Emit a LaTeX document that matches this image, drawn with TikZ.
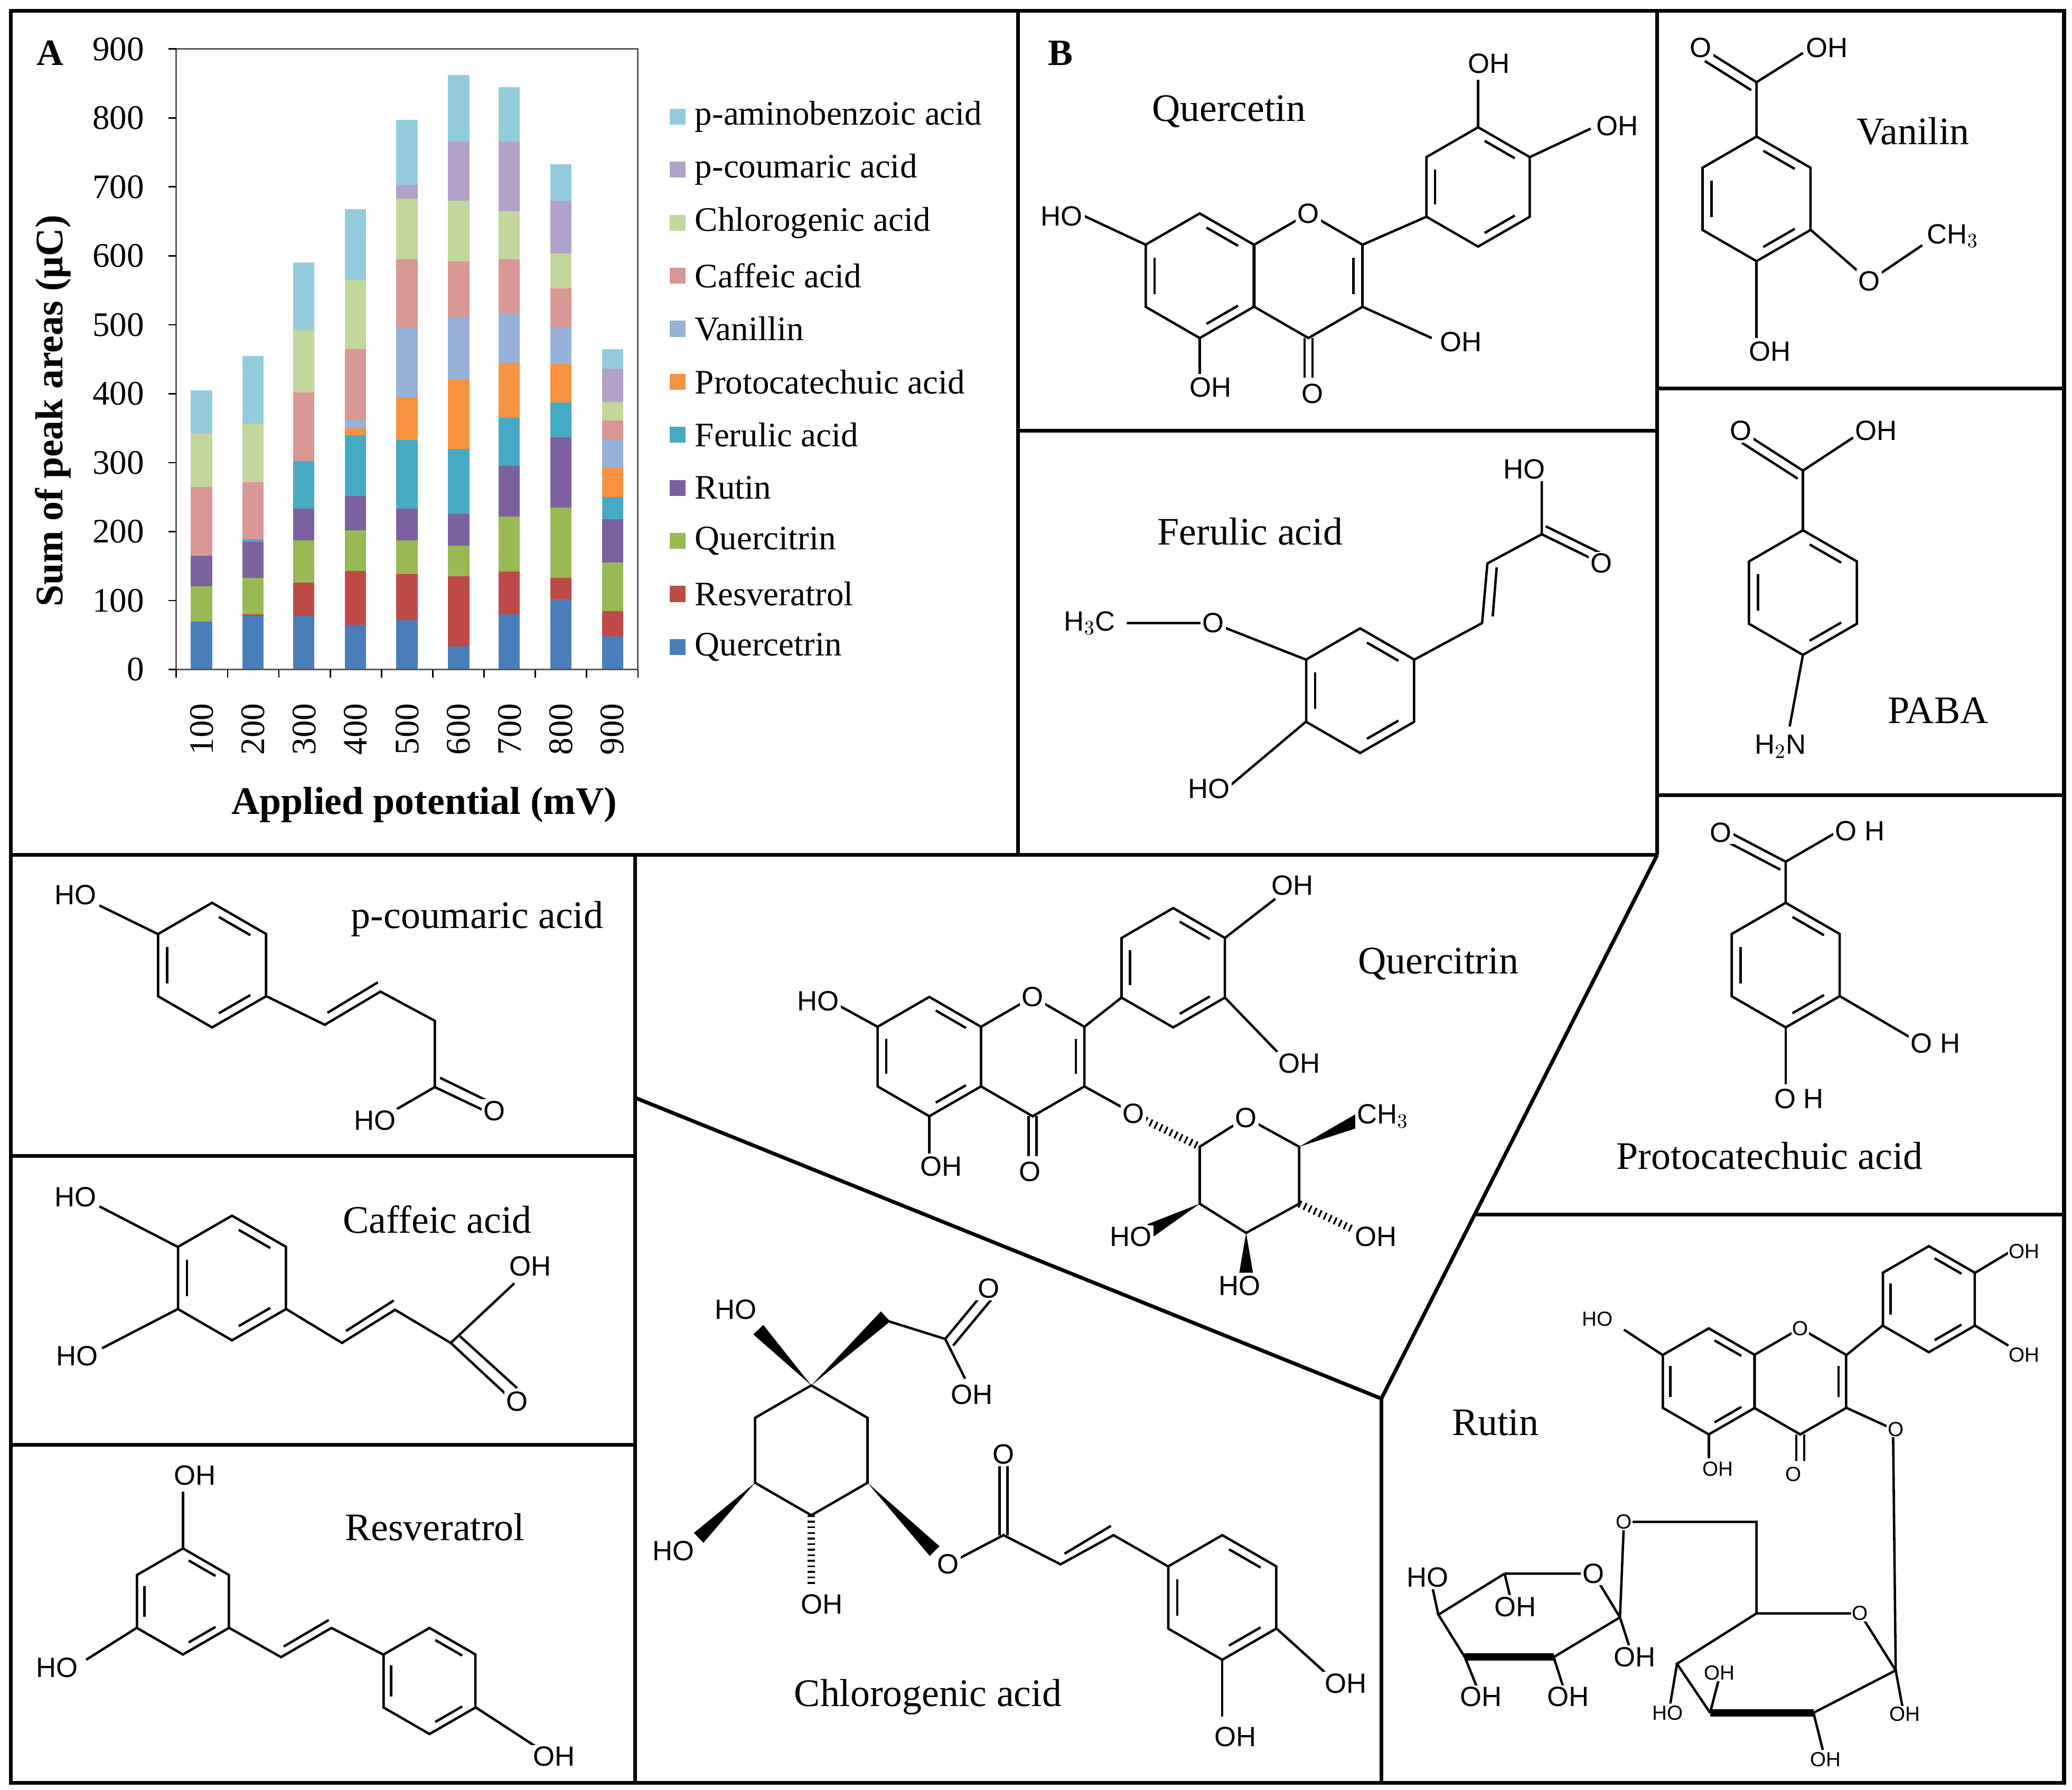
\documentclass[tikz,border=0pt]{standalone}
\usepackage{fontspec}
\setmainfont{Liberation Serif}
\newfontfamily\chemfont{Liberation Sans}
\usetikzlibrary{calc}
\definecolor{c1}{HTML}{4A7EBB}\definecolor{c2}{HTML}{BE4B48}\definecolor{c3}{HTML}{98B954}
\definecolor{c4}{HTML}{7D60A0}\definecolor{c5}{HTML}{46AAC5}\definecolor{c6}{HTML}{F69240}
\definecolor{c7}{HTML}{97B1D8}\definecolor{c8}{HTML}{D99795}\definecolor{c9}{HTML}{C3D69B}
\definecolor{c10}{HTML}{B3A2C7}\definecolor{c11}{HTML}{93CDDD}
\newcommand\hexr[4]{\draw[bond] (#1,#2) +(90:#3) -- +(150:#3) -- +(210:#3) -- +(270:#3) -- +(330:#3) -- +(30:#3) -- cycle;
 \foreach \k in {#4}{\draw[bond] ($(#1,#2)+({98+60*\k}:0.78*#3)$) -- ($(#1,#2)+({142+60*\k}:0.78*#3)$);}}
\newcommand\wdg[4]{\fill (#1,#2) -- ($(#3,#4)!0.13cm!90:(#1,#2)$) -- ($(#3,#4)!0.13cm!-90:(#1,#2)$) -- cycle;}
\begin{document}
\begin{tikzpicture}[x=0.0251cm,y=-0.0251cm,
 bond/.style={line width=1.3pt},
 frame/.style={line width=2pt},
 ttl/.style={font=\fontsize{21}{24}\selectfont,inner sep=0},
 ax/.style={font=\fontsize{18.5}{21}\selectfont,inner sep=0},
 ch/.style={font=\chemfont\fontsize{15}{17}\selectfont,inner sep=1pt,fill=white},
 cs/.style={font=\chemfont\fontsize{11}{13}\selectfont,inner sep=0.5pt,fill=white},
 hash/.style={line width=4pt,dash pattern=on 1pt off 2pt}]
\useasboundingbox (0,0) rectangle (1563,1350);
\fill[white] (0,0) rectangle (1563,1350);
% ---------- frames
\draw[frame] (8,8) rectangle (1557,1345);
\draw[frame] (768,8) -- (768,645);
\draw[frame] (8,645) -- (1250,645);
\draw[frame] (1250,8) -- (1250,645);
\draw[frame] (768,325) -- (1250,325);
\draw[frame] (1250,293) -- (1557,293);
\draw[frame] (1250,600) -- (1557,600);
\draw[frame] (1113,916) -- (1557,916);
\draw[frame] (479,645) -- (479,1345);
\draw[frame] (8,872) -- (479,872);
\draw[frame] (8,1090) -- (479,1090);
\draw[frame] (1250,645) -- (1042,1055) -- (479,828);
\draw[frame] (1042,1055) -- (1042,1345);
% ---------- chart
\node[font=\bfseries\fontsize{20}{22}\selectfont] (lA) at (38,40) {A};
\node[font=\bfseries\fontsize{20}{22}\selectfont] (lB) at (800,40) {B};
\foreach \x/\vals in {152/{69,69,121,165,165,165,165,265,342,342,405},
 191/{78,80,133,185,189,189,189,272,357,357,455},
 229/{78,126,187,233,302,302,302,402,492,492,590},
 268/{65,143,202,252,340,350,362,465,565,565,668},
 307/{72,138,187,233,333,395,495,595,683,703,797},
 346/{33,135,180,226,320,420,510,592,680,766,862},
 384/{80,142,222,295,365,445,517,595,665,766,845},
 423/{102,133,235,337,387,443,497,553,603,680,733},
 462/{48,85,155,218,250,293,333,361,388,436,465}}{
 \foreach \t [count=\i, remember=\t as \p (initially 0)] in \vals {
  \fill[c\i] (\x-8,{505-0.52*\p}) rectangle (\x+8,{505-0.52*\t});}}
\draw[line width=0.8pt,gray!70!black] (133,37) rectangle (481,505);
\foreach \v in {0,100,...,900}{\draw[line width=0.8pt] (127,{505-0.52*\v}) -- (133,{505-0.52*\v});
 \node[ax,anchor=east] at (109,{505-0.52*\v}) {\v};}
\foreach \k in {0,...,9}{\draw[line width=0.8pt] ({133+38.7*\k},505) -- ({133+38.7*\k},511);}
\foreach \v [count=\i] in {100,200,...,900}{\node[ax,rotate=90] at ({113.6+38.7*\i},550) {\v};}
\node[font=\bfseries\fontsize{21}{23}\selectfont,rotate=90] (yl) at (40,310) {Sum of peak areas (μC)};
\node[font=\bfseries\fontsize{21}{23}\selectfont] (xl) at (320,607) {Applied potential (mV)};
\foreach \n [count=\i] in {Quercetrin,Resveratrol,Quercitrin,Rutin,Ferulic acid,Protocatechuic acid,Vanillin,Caffeic acid,Chlorogenic acid,p-coumaric acid,p-aminobenzoic acid}{
 \fill[c\i] (505,{488-40*(\i-1)-6}) rectangle (517,{488-40*(\i-1)+6});
 \node[ax,anchor=west] at (524,{488-40*(\i-1)}) {\n};}
% ---------- Quercetin
\node[ttl] (tq) at (927,84) {Quercetin};
\hexr{905}{208}{47}{1,3,5}
\hexr{987}{208}{47}{4}
\hexr{1115}{141}{45}{1,3,5}
\draw[bond] (1028,184.5) -- (1076,163.5);
\draw[bond] (1115,96) -- (1115,60); \draw[bond] (1154,118.5) -- (1200,97);
\draw[bond] (864,184.5) -- (818,163); \draw[bond] (905,255) -- (905,282);
\draw[bond] (984,255) -- (984,285); \draw[bond] (990,255) -- (990,285);
\draw[bond] (1028,231.5) -- (1080,255);
\node[ch] (q1) at (987,161) {O}; \node[ch] (q2) at (1123,48) {OH}; \node[ch] (q3) at (1220,95) {OH};
\node[ch] (q4) at (801,163) {HO}; \node[ch] (q5) at (913,292) {OH}; \node[ch] (q6) at (990,297) {O};
\node[ch] (q7) at (1102,258) {OH};
% ---------- Vanilin
\node[ttl] (tv) at (1443,99) {Vanilin};
\hexr{1325}{150}{47}{1,3,5}
\draw[bond] (1325,103) -- (1325,62) -- (1360,40);
\draw[bond] (1325,62) -- (1290,40); \draw[bond] (1321,68) -- (1286,46);
\draw[bond] (1366,173.5) -- (1410,212) -- (1450,185);
\draw[bond] (1325,197) -- (1325,255);
\node[ch] (v1) at (1283,36) {O}; \node[ch] (v2) at (1378,36) {OH}; \node[ch] (v3) at (1410,212) {O};
\node[ch] (v4) at (1473,178) {CH$_3$}; \node[ch] (v5) at (1335,265) {OH};
% ---------- PABA
\node[ttl] (tp) at (1462,536) {PABA};
\hexr{1360}{447}{47}{1,3,5}
\draw[bond] (1360,400) -- (1360,355) -- (1398,330);
\draw[bond] (1360,355) -- (1318,328); \draw[bond] (1356,361) -- (1314,334);
\draw[bond] (1360,494) -- (1350,548);
\node[ch] (p1) at (1313,325) {O}; \node[ch] (p2) at (1415,325) {OH}; \node[ch] (p3) at (1343,563) {H$_2$N};
% ---------- Protocatechuic
\node[ttl] (tpc) at (1335,872) {Protocatechuic acid};
\hexr{1347}{728}{47}{1,3,5}
\draw[bond] (1347,681) -- (1347,650) -- (1385,628);
\draw[bond] (1347,650) -- (1305,628); \draw[bond] (1343,656) -- (1301,634);
\draw[bond] (1388,751.5) -- (1440,782); \draw[bond] (1347,775) -- (1347,818);
\node[ch] (pc1) at (1298,628) {O}; \node[ch] (pc2) at (1403,627) {O H};
\node[ch] (pc3) at (1460,787) {O H}; \node[ch] (pc4) at (1357,829) {O H};
% ---------- Ferulic
\node[ttl] (tf) at (943,401) {Ferulic acid};
\hexr{1026}{521}{47}{1,3,5}
\draw[bond] (985,497.5) -- (915,470) -- (850,470);
\draw[bond] (985,544.5) -- (925,595);
\draw[bond] (1067,497.5) -- (1118,470) -- (1122,425) -- (1163,403) -- (1163,360);
\draw[bond] (1126,465) -- (1129,428);
\draw[bond] (1163,403) -- (1208,425); \draw[bond] (1166,397) -- (1211,419);
\node[ch] (f1) at (915,470) {O}; \node[ch] (f2) at (822,470) {H$_3$C}; \node[ch] (f3) at (912,595) {HO};
\node[ch] (f4) at (1150,354) {HO}; \node[ch] (f5) at (1208,425) {O};
% ---------- Quercitrin
\node[ttl] (tqr) at (1085,727) {Quercitrin};
\hexr{701}{797}{45}{1,3,5}
\hexr{779}{797}{45}{4}
\hexr{885}{730}{45}{1,3,5}
\draw[bond] (818,774.5) -- (846,752.5);
\draw[bond] (924,707.5) -- (962,678); \draw[bond] (924,752.5) -- (965,795);
\draw[bond] (662,774.5) -- (630,757); \draw[bond] (701,842) -- (701,870);
\draw[bond] (776,842) -- (776,872); \draw[bond] (782,842) -- (782,872);
\draw[bond] (818,819.5) -- (855,840);
\draw[hash] (860,843) -- (905,865);
\draw[bond] (905,865) -- (940,843) -- (980,865) -- (980,908) -- (940,930) -- (905,908) -- cycle;
\wdg{980}{865}{1025}{845}
\wdg{905}{908}{868}{928}
\wdg{940}{930}{940}{960}
\draw[hash] (980,908) -- (1022,928);
\node[ch] (r1) at (779,752) {O}; \node[ch] (r2) at (975,668) {OH}; \node[ch] (r3) at (980,802) {OH};
\node[ch] (r4) at (617,755) {HO}; \node[ch] (r5) at (710,880) {OH}; \node[ch] (r6) at (777,884) {O};
\node[ch] (r7) at (855,840) {O}; \node[ch] (r8) at (940,843) {O}; \node[ch] (r9) at (1043,842) {CH$_3$};
\node[ch] (r10) at (853,933) {HO}; \node[ch] (r11) at (935,970) {HO}; \node[ch] (r12) at (1038,933) {OH};
% ---------- p-coumaric
\node[ttl] (tpcm) at (360,693) {p-coumaric acid};
\hexr{160}{728}{47}{1,3,5}
\draw[bond] (119,704.5) -- (75,683);
\draw[bond] (201,751.5) -- (245,773) -- (287,748) -- (328,770) -- (328,820) -- (290,842);
\draw[bond] (247,764) -- (285,741);
\draw[bond] (328,820) -- (370,840); \draw[bond] (332,813) -- (373,833);
\node[ch] (pm1) at (57,675) {HO}; \node[ch] (pm2) at (283,845) {HO}; \node[ch] (pm3) at (373,838) {O};
% ---------- Caffeic
\node[ttl] (tc) at (330,920) {Caffeic acid};
\hexr{175}{964}{47}{1,3,5}
\draw[bond] (134,940.5) -- (75,910); \draw[bond] (134,987.5) -- (77,1017);
\draw[bond] (216,987.5) -- (258,1013) -- (298,988) -- (340,1013) -- (388,968);
\draw[bond] (261,1004) -- (297,981);
\draw[bond] (340,1013) -- (383,1053); \draw[bond] (347,1008) -- (390,1047);
\node[ch] (cf1) at (57,903) {HO}; \node[ch] (cf2) at (58,1023) {HO};
\node[ch] (cf3) at (400,955) {OH}; \node[ch] (cf4) at (390,1057) {O};
% ---------- Resveratrol
\node[ttl] (tr) at (328,1152) {Resveratrol};
\hexr{138}{1208}{40}{1,3,5}
\hexr{324}{1268}{40}{1,3,5}
\draw[bond] (138,1168) -- (138,1125); \draw[bond] (103,1228) -- (65,1252);
\draw[bond] (173,1228) -- (212,1250) -- (250,1228) -- (289,1248);
\draw[bond] (214,1242) -- (248,1222);
\draw[bond] (359,1288) -- (405,1318);
\node[ch] (rs1) at (147,1113) {OH}; \node[ch] (rs2) at (43,1258) {HO}; \node[ch] (rs3) at (418,1325) {OH};
% ---------- Chlorogenic
\node[ttl] (tcg) at (700,1280) {Chlorogenic acid};
\draw[bond] (612,1045) -- (654.4,1069.5) -- (654.4,1118.5) -- (612,1143) -- (569.6,1118.5) -- (569.6,1069.5) -- cycle;
\wdg{612}{1045}{572}{1003}
\wdg{612}{1045}{668}{993}
\draw[bond] (665,995) -- (713,1010) -- (728,1040);
\draw[bond] (713,1010) -- (742,975); \draw[bond] (719,1015) -- (748,980);
\wdg{569.6}{1118.5}{527}{1160}
\draw[hash] (612,1143) -- (612,1195);
\wdg{654.4}{1118.5}{705}{1170}
\draw[bond] (715,1180) -- (757,1158) -- (800,1180) -- (840,1158) -- (881,1181.5);
\draw[bond] (754,1158) -- (754,1105); \draw[bond] (760,1158) -- (760,1105);
\draw[bond] (803,1172) -- (838,1151);
\hexr{922}{1205}{47}{1,3,5}
\draw[bond] (963,1228.5) -- (1000,1262); \draw[bond] (922,1252) -- (922,1295);
\node[ch] (cg1) at (555,988) {HO}; \node[ch] (cg2) at (746,972) {O}; \node[ch] (cg3) at (733,1052) {OH};
\node[ch] (cg4) at (508,1170) {HO}; \node[ch] (cg5) at (620,1210) {OH}; \node[ch] (cg6) at (715,1180) {O};
\node[ch] (cg7) at (757,1097) {O}; \node[ch] (cg8) at (1015,1270) {OH}; \node[ch] (cg9) at (932,1310) {OH};
% ---------- Rutin
\node[ttl] (tru) at (1128,1073) {Rutin};
\hexr{1289}{1042}{40}{1,3,5}
\hexr{1358}{1042}{40}{4}
\hexr{1455}{980}{40}{1,3,5}
\draw[bond] (1393,1022) -- (1420,1000);
\draw[bond] (1490,960) -- (1515,945); \draw[bond] (1490,1000) -- (1515,1015);
\draw[bond] (1254,1022) -- (1225,1003); \draw[bond] (1289,1082) -- (1289,1100);
\draw[bond] (1355,1082) -- (1355,1102); \draw[bond] (1361,1082) -- (1361,1102);
\draw[bond] (1393,1062) -- (1428,1078) -- (1430,1260);
\draw[bond] (1325,1217) -- (1403,1217) -- (1430,1260) -- (1368,1292);
\draw[line width=4pt] (1368,1292) -- (1290,1292);
\draw[bond] (1290,1292) -- (1265,1255) -- (1325,1217);
\draw[bond] (1325,1217) -- (1325,1148) -- (1225,1148) -- (1222,1220);
\draw[bond] (1135,1187) -- (1202,1187) -- (1222,1220) -- (1172,1250);
\draw[line width=4pt] (1172,1250) -- (1105,1250);
\draw[bond] (1105,1250) -- (1085,1218) -- (1135,1187);
\draw[bond] (1265,1255) -- (1260,1285); \draw[bond] (1290,1292) -- (1297,1265);
\draw[bond] (1368,1292) -- (1375,1320); \draw[bond] (1430,1260) -- (1435,1287);
\draw[bond] (1085,1218) -- (1080,1195); \draw[bond] (1135,1187) -- (1140,1208);
\draw[bond] (1222,1220) -- (1230,1245); \draw[bond] (1105,1250) -- (1115,1275); \draw[bond] (1172,1250) -- (1180,1275);
\node[cs] (ru1) at (1358,1002) {O}; \node[cs] (ru2) at (1527,944) {OH}; \node[cs] (ru3) at (1527,1022) {OH};
\node[cs] (ru4) at (1205,995) {HO}; \node[cs] (ru5) at (1296,1108) {OH}; \node[cs] (ru6) at (1353,1112) {O};
\node[cs] (ru7) at (1430,1078) {O}; \node[cs] (ru8) at (1403,1217) {O}; \node[cs] (ru9) at (1225,1148) {O};
\node[cs] (ru10) at (1258,1292) {HO}; \node[cs] (ru11) at (1297,1262) {OH}; \node[cs] (ru12) at (1377,1327) {OH};
\node[cs] (ru13) at (1437,1293) {OH};
\node[ch] (ru14) at (1202,1187) {O}; \node[ch] (ru15) at (1077,1190) {HO}; \node[ch] (ru16) at (1143,1212) {OH};
\node[ch] (ru17) at (1233,1250) {OH}; \node[ch] (ru18) at (1117,1280) {OH}; \node[ch] (ru19) at (1183,1280) {OH};
\end{tikzpicture}
\end{document}
